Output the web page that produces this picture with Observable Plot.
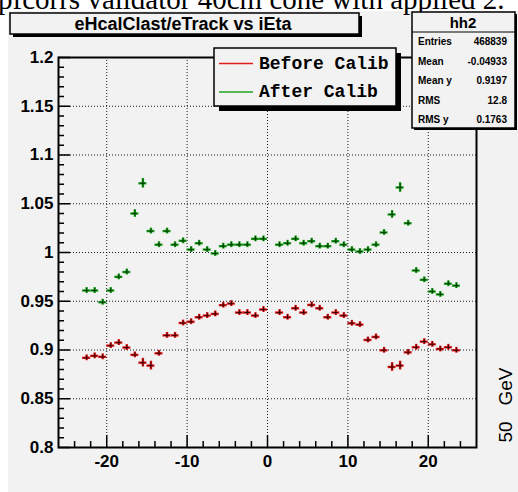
<!DOCTYPE html>
<html><head><meta charset="utf-8">
<script src="https://cdn.jsdelivr.net/npm/d3@7"></script>
<script src="https://cdn.jsdelivr.net/npm/@observablehq/plot@0.6"></script>
<style>
html,body{margin:0;padding:0;background:#fff;}
#wrap{position:relative;width:518px;height:492px;overflow:hidden;background:#fff;}
#canvas{position:absolute;left:8px;top:11px;right:0;bottom:0;background:#f2f2f2;}
#plot{position:absolute;left:0;top:0;}
#over{position:absolute;left:0;top:0;}
</style></head><body>
<div id="wrap"><div id="canvas"></div><div id="plot"></div><svg id="over" width="518" height="492"></svg></div>
<script>
// iEta values (each drawn in the bin [iEta, iEta+1])
const ieta = [-23,-22,-21,-20,-19,-18,-17,-16,-15,-14,-13,-12,-11,-10,-9,-8,-7,-6,-5,-4,-3,-2,-1,
              1,2,3,4,5,6,7,8,9,10,11,12,13,14,15,16,17,18,19,20,21,22,23];
const beforeCalib = [0.892,0.894,0.893,0.9045,0.9076,0.9025,0.895,0.887,0.884,0.8966,0.915,0.915,0.9277,0.929,0.9336,0.9353,0.937,0.946,0.9476,0.9384,0.9384,0.9353,0.9415,
                     0.9384,0.9336,0.9428,0.9384,0.9462,0.9428,0.9336,0.9384,0.9353,0.9274,0.926,0.9103,0.9134,0.8997,0.8826,0.884,0.8976,0.9028,0.9086,0.9058,0.901,0.9028,0.8997];
const afterCalib = [0.961,0.961,0.949,0.961,0.975,0.980,1.040,1.071,1.022,1.008,1.022,1.008,1.012,1.003,1.0095,1.003,0.999,1.0065,1.008,1.008,1.008,1.014,1.014,
                    1.008,1.0095,1.014,1.0095,1.0116,1.0065,1.0065,1.0116,1.008,1.003,1.001,1.003,1.008,1.0205,1.039,1.0667,1.030,0.9815,0.972,0.960,0.957,0.968,0.966];
const errBefore = [0.003,0.003,0.003,0.003,0.003,0.003,0.003,0.0045,0.0045,0.003,0.003,0.003,0.003,0.003,0.003,0.003,0.003,0.003,0.003,0.003,0.003,0.003,0.003,
                   0.003,0.003,0.003,0.003,0.003,0.003,0.003,0.003,0.003,0.003,0.003,0.003,0.003,0.003,0.0045,0.0045,0.003,0.003,0.003,0.003,0.003,0.003,0.003];
const errAfter = [0.003,0.003,0.003,0.003,0.003,0.003,0.004,0.005,0.003,0.003,0.003,0.003,0.003,0.003,0.003,0.003,0.003,0.003,0.003,0.003,0.003,0.003,0.003,
                  0.003,0.003,0.003,0.003,0.003,0.003,0.003,0.003,0.003,0.003,0.003,0.003,0.003,0.003,0.004,0.005,0.003,0.003,0.003,0.003,0.003,0.003,0.003];
const xMajor = [-20,-10,0,10,20];
const yMajor = [0.8,0.85,0.9,0.95,1,1.05,1.1,1.15,1.2];
const yGridTicks = [0.85,0.9,0.95,1,1.05,1.1,1.15];
const seriesNames = ["Before Calib","After Calib"];
const seriesColors = ["#e41b1b","#1fa51f"];
const statsLabels = ["Entries","Mean","Mean y","RMS","RMS y"];
const statsValues = ["468839","-0.04933","0.9197","12.8","0.1763"];

const xMinor = d3.range(-24, 25, 2).filter(v => v % 10 !== 0);
const yMinor = d3.range(80, 121).map(v => v / 100).filter(v => Math.round(v * 100) % 5 !== 0);

const before = ieta.map((k, i) => ({x: k + 0.5, v: beforeCalib[i], e: errBefore[i]}));
const after = ieta.map((k, i) => ({x: k + 0.5, v: afterCalib[i], e: errAfter[i]}));

function bars(data, color, core) {
  return [
    Plot.ruleY(data, {y: "v", x1: d => d.x - 0.5, x2: d => d.x + 0.5, stroke: color, strokeWidth: 2.4}),
    Plot.ruleX(data, {x: "x", y1: d => d.v - d.e, y2: d => d.v + d.e, stroke: color, strokeWidth: 2.4}),
    Plot.ruleY(data, {y: "v", x1: d => d.x - 0.35, x2: d => d.x + 0.35, stroke: core, strokeWidth: 1}),
    Plot.ruleX(data, {x: "x", y1: d => d.v - d.e * 0.8, y2: d => d.v + d.e * 0.8, stroke: core, strokeWidth: 1})
  ];
}

const grid = {stroke: "black", strokeDasharray: "1,2", strokeWidth: 1, strokeOpacity: 0.9};
const plot = Plot.plot({
  width: 518, height: 492,
  marginLeft: 58, marginRight: 42, marginTop: 57, marginBottom: 45,
  style: {background: "transparent", color: "black", fontFamily: "'Liberation Sans', Arial, sans-serif", fontWeight: "bold", fontSize: "17px", overflow: "visible"},
  x: {domain: [-26, 26]},
  y: {domain: [0.8, 1.2]},
  marks: [
    Plot.ruleX(xMajor, grid),
    Plot.ruleY(yGridTicks, grid),
    Plot.axisX(xMinor, {tickSize: -6, tickFormat: () => "", label: null, strokeWidth: 1.5}),
    Plot.axisX(xMajor, {tickSize: -12, tickFormat: () => "", label: null, strokeWidth: 1.5}),
    Plot.axisX(xMajor, {tickSize: 0, tickPadding: 7, tickFormat: d => String(d), label: null}),
    Plot.axisY(yMinor, {tickSize: -6, tickFormat: () => "", label: null, strokeWidth: 1.5}),
    Plot.axisY(yMajor, {tickSize: -12, tickFormat: () => "", label: null, strokeWidth: 1.5}),
    Plot.axisY(yMajor, {tickSize: 0, tickPadding: 5, tickFormat: d => String(d), label: null}),
    ...bars(before, seriesColors[0], "#3a0000"),
    ...bars(after, seriesColors[1], "#003a00"),
    Plot.frame({stroke: "black", strokeWidth: 2})
  ]
});
document.getElementById("plot").appendChild(plot);

// Decorations (ROOT-style boxes)
const over = d3.select("#over");
const sans = "'Liberation Sans', Arial, sans-serif";
over.append("text").attr("x", -2).attr("y", 9).attr("font-family", "'Liberation Serif', 'Times New Roman', serif")
  .attr("font-size", 29).text("pfcorrs validator 40cm cone with applied 2.");

function box(x, y, w, h, sh) {
  over.append("rect").attr("x", x + sh).attr("y", y + sh).attr("width", w).attr("height", h).attr("fill", "black");
  over.append("rect").attr("x", x).attr("y", y).attr("width", w).attr("height", h)
    .attr("fill", "#f2f2f2").attr("stroke", "black").attr("stroke-width", 1.5);
}
// title
box(10, 13, 349, 21, 3);
over.append("text").attr("x", 183).attr("y", 23.5).attr("text-anchor", "middle").attr("dominant-baseline", "central")
  .attr("font-family", sans).attr("font-weight", "bold").attr("font-size", 18).text("eHcalClast/eTrack vs iEta");
// legend
box(214, 48, 182, 58, 5);
seriesNames.forEach((name, i) => {
  const y = [63.5, 92][i];
  over.append("line").attr("x1", 219).attr("x2", 253).attr("y1", y).attr("y2", y).attr("stroke", seriesColors[i]).attr("stroke-width", 1.5);
  over.append("text").attr("x", 259).attr("y", y).attr("dominant-baseline", "central")
    .attr("font-family", "'Liberation Mono', 'Courier New', monospace").attr("font-weight", "bold").attr("font-size", 18).text(name);
});
// stats box
box(412, 12, 103, 116, 2);
over.append("line").attr("x1", 412).attr("x2", 515).attr("y1", 32).attr("y2", 32).attr("stroke", "black").attr("stroke-width", 1);
over.append("text").attr("x", 463).attr("y", 22.5).attr("text-anchor", "middle").attr("dominant-baseline", "central")
  .attr("font-family", sans).attr("font-weight", "bold").attr("font-size", 15).text("hh2");
statsLabels.forEach((lab, i) => {
  const y = [41, 61, 80.5, 100, 119][i];
  over.append("text").attr("x", 418).attr("y", y).attr("dominant-baseline", "central")
    .attr("font-family", sans).attr("font-weight", "bold").attr("font-size", 10).text(lab);
  over.append("text").attr("x", 507).attr("y", y).attr("text-anchor", "end").attr("dominant-baseline", "central")
    .attr("font-family", sans).attr("font-weight", "bold").attr("font-size", 10).text(statsValues[i]);
});
// rotated unit label
over.append("text").attr("transform", "translate(505,405) rotate(-90)").attr("text-anchor", "middle").attr("dominant-baseline", "central")
  .attr("font-family", sans).attr("font-size", 19).attr("xml:space", "preserve").style("white-space", "pre").text("50   GeV");
</script>
</body></html>
